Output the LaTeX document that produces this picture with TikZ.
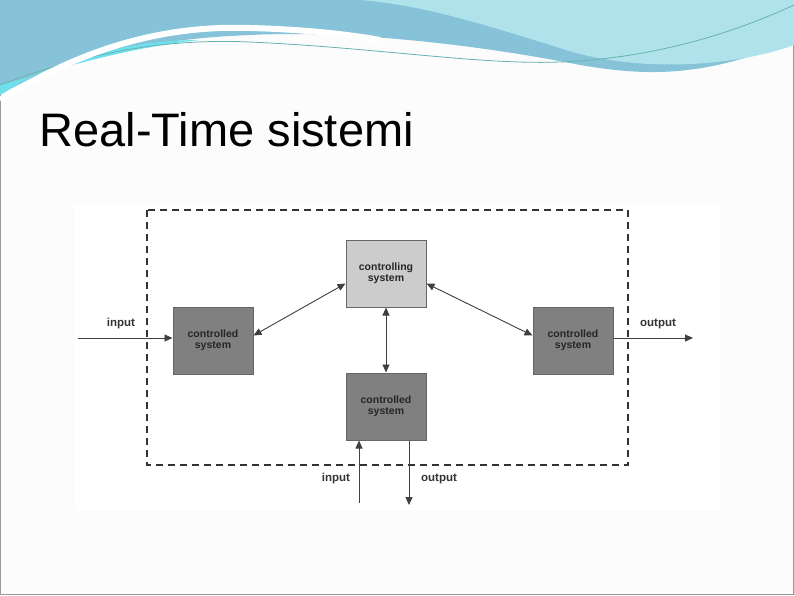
\documentclass[tikz,border=0pt]{standalone}
\usepackage{fontspec}
\setmainfont{Liberation Sans}
\usetikzlibrary{arrows.meta}
\definecolor{waveA}{HTML}{86C3D8}
\definecolor{waveB}{HTML}{B0E2EC}
\definecolor{waveC}{HTML}{6EE0EC}
\begin{document}
\begin{tikzpicture}[x=1pt,y=-1pt,
  box/.style={draw=black!60,line width=1pt,fill=black!50,minimum width=80pt,minimum height=67pt,inner sep=0pt,align=center,font=\bfseries\fontsize{10.5}{11.5}\selectfont,text=black!85},
  lbl/.style={font=\fontsize{11.5}{12}\selectfont\bfseries,text=black!80},
  conn/.style={black!75,line width=0.9pt,>={Triangle[length=8pt,width=7pt]}}]
\useasboundingbox (0,0) rectangle (794,595);
\fill[white!99!black] (0,0) rectangle (794,595);
\draw[black!40] (0.5,0.5) rectangle (793.5,594.5);
% top waves
\fill[waveA] (0,0) -- (794,0) -- (794,40) .. controls (700,80) and (640,75) .. (580,65) .. controls (480,45) and (350,30) .. (250,35) .. controls (120,40) and (40,70) .. (0,95) -- cycle;
\fill[waveB] (360,0) -- (794,0) -- (794,45) .. controls (740,65) and (640,75) .. (560,48) .. controls (470,20) and (420,5) .. (360,0) -- cycle;
\fill[waveC] (0,95) .. controls (60,55) and (140,40) .. (200,40) .. controls (120,48) and (40,75) .. (0,85) -- cycle;
\draw[teal!60,line width=0.8pt] (0,85) .. controls (80,55) and (160,38) .. (250,42) .. controls (380,48) and (480,65) .. (560,62) .. controls (660,58) and (740,30) .. (794,5);
\draw[white,line width=6pt] (0,100) .. controls (80,50) and (160,25) .. (250,28) .. controls (330,30) and (380,40) .. (380,40);
\node[anchor=west,font=\fontsize{47}{50}\selectfont] (title) at (36,130) {Real-Time sistemi};
% diagram area
\fill[white] (75,205) rectangle (720,510);
\draw[black!80,line width=1.6pt,dash pattern=on 7pt off 5pt] (147,210) rectangle (628,465);
\node[box,fill=black!20] (ctl) at (386,273.5) {controlling\\system};
\node[box] (left) at (213,340.5) {controlled\\system};
\node[box] (bot) at (386,406.5) {controlled\\system};
\node[box] (right) at (573,340.5) {controlled\\system};
\coordinate (inL) at (78,338);
\coordinate (outR) at (693,338);
\coordinate (inB) at (359,503);
\coordinate (outB) at (409,505);
\draw[conn,->] (inL) -- (left.west |- inL);
\draw[conn,->] (right.east |- outR) -- (outR);
\draw[conn,->] (inB) -- (inB |- bot.south);
\draw[conn,->] (outB |- bot.south) -- (outB);
\draw[conn,<->] ([yshift=5pt]left.east) -- ([yshift=-10pt]ctl.west);
\draw[conn,<->] ([yshift=-10pt]ctl.east) -- ([yshift=5pt]right.west);
\draw[conn,<->] (ctl.south) -- (bot.north);
\node[lbl] (l1) at (121,324) {input};
\node[lbl] (l2) at (658,324) {output};
\node[lbl] (l3) at (336,479) {input};
\node[lbl] (l4) at (439,479) {output};
\end{tikzpicture}
\end{document}
